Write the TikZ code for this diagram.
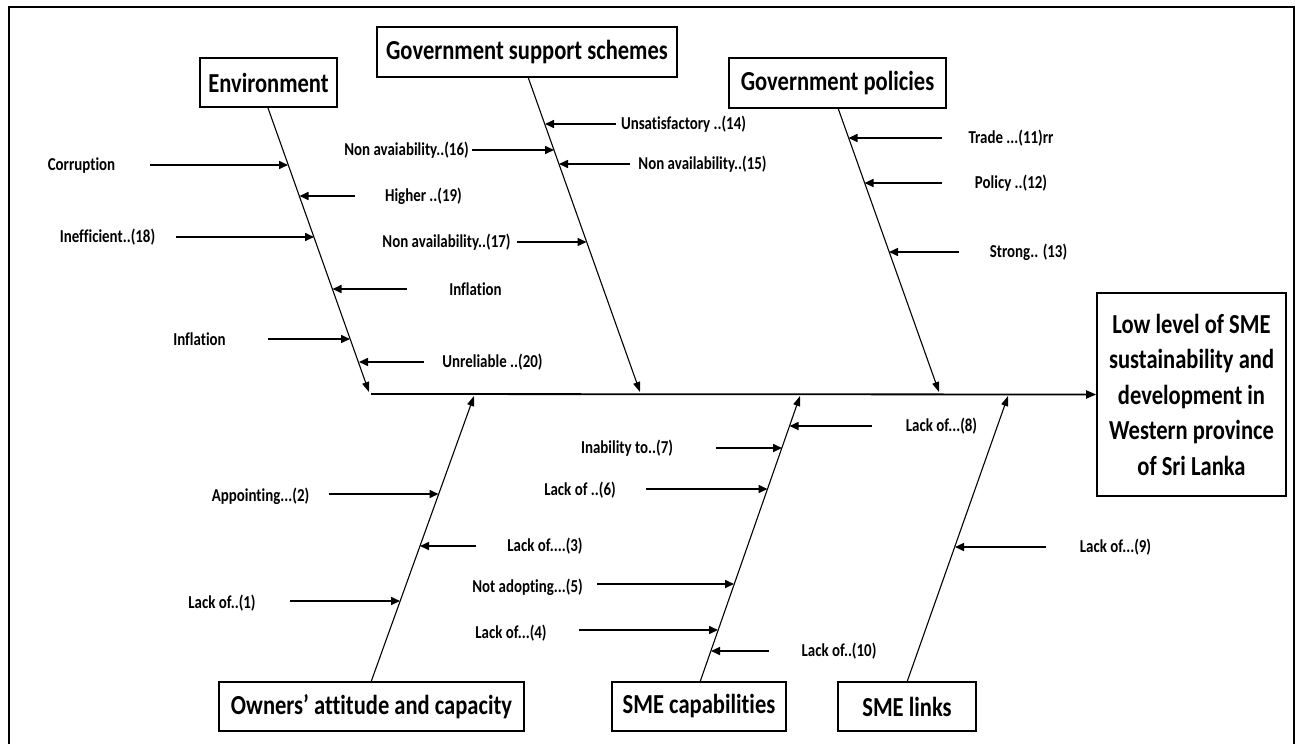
\documentclass[tikz,border=0pt]{standalone}
\usepackage{fontspec}
\setmainfont{Carlito}[FakeStretch=0.82,Ligatures=CommonOff]
\usetikzlibrary{arrows.meta}
\begin{document}
\begin{tikzpicture}[x=1pt,y=-1pt,
  box/.style={draw,line width=1.6pt,inner sep=0pt,align=center,
    font=\bfseries\fontsize{27.5}{35.5}\selectfont},
  lbl/.style={inner sep=0pt,font=\bfseries\fontsize{18.2}{20}\selectfont},
  bone/.style={line width=1.1pt,-{Triangle[length=10pt,width=7pt]}},
  spine/.style={line width=1.8pt,-{Triangle[length=10pt,width=8pt]}},
  cause/.style={line width=1.6pt,-{Triangle[length=9pt,width=8pt]}}]
\useasboundingbox (0,0) rectangle (1298,744);
\draw[line width=2.5pt] (9,744)--(9,7)--(1294,7)--(1294,744);

% category boxes
\node[box,minimum width=137pt,minimum height=49pt] (env) at (268.5,82.5) {Environment};
\node[box,minimum width=300pt,minimum height=50pt] (gss) at (527,52) {Government support schemes};
\node[box,minimum width=217pt,minimum height=50pt] (gp) at (837.5,83) {Government policies};
\node[box,minimum width=305pt,minimum height=49pt] (own) at (371.5,706.5) {Owners’ attitude and capacity};
\node[box,minimum width=174pt,minimum height=49pt] (cap) at (699,706.5) {SME capabilities};
\node[box,minimum width=138pt,minimum height=49pt] (lnk) at (907,706.5) {SME links};
\node[box,minimum width=189pt,minimum height=203pt] (out) at (1191.5,394.5)
  {Low level of SME\\sustainability and\\development in\\Western province\\of Sri Lanka};

% spine
\coordinate (s0) at (371,394);
\draw[spine] (s0) -- (out.west);

% bone ends
\coordinate (envE) at (369,392);
\coordinate (gssE) at (640,392);
\coordinate (gpE) at (939,392);
\coordinate (ownE) at (474,396);
\coordinate (capE) at (800,396);
\coordinate (lnkE) at (1008,396);
\coordinate (envS) at (268,108);
\coordinate (gssS) at (528,77);
\coordinate (gpS) at (838,108);
\coordinate (ownS) at (371,682);
\coordinate (capS) at (700,682);
\coordinate (lnkS) at (907,682);
\draw[bone] (envS) -- (envE);
\draw[bone] (gssS) -- (gssE);
\draw[bone] (gpS) -- (gpE);
\draw[bone] (ownS) -- (ownE);
\draw[bone] (capS) -- (capE);
\draw[bone] (lnkS) -- (lnkE);

% labels
\node[lbl] (l1)  at (81.5,166) {Corruption};
\node[lbl] (l2)  at (423.5,196) {Higher ..(19)};
\node[lbl] (l3)  at (107.5,237) {Inefficient..(18)};
\node[lbl] (l4)  at (475.5,289) {Inflation};
\node[lbl] (l5)  at (199.5,339) {Inflation};
\node[lbl] (l6)  at (492.5,362) {Unreliable ..(20)};
\node[lbl] (l7)  at (683.5,124) {Unsatisfactory ..(14)};
\node[lbl] (l8)  at (406.5,150) {Non avaiability..(16)};
\node[lbl] (l9)  at (702.5,164) {Non availability..(15)};
\node[lbl] (l10) at (446.5,242) {Non availability..(17)};
\node[lbl] (l11) at (1011,138) {Trade ...(11)rr};
\node[lbl] (l12) at (1011,183) {Policy ..(12)};
\node[lbl] (l13) at (1028.5,252) {Strong.. (13)};
\node[lbl] (l14) at (260.5,496) {Appointing...(2)};
\node[lbl] (l15) at (545,546) {Lack of....(3)};
\node[lbl] (l16) at (222,603) {Lack of..(1)};
\node[lbl] (l17) at (941.5,426) {Lack of...(8)};
\node[lbl] (l18) at (627,448) {Inability to..(7)};
\node[lbl] (l19) at (580,490) {Lack of ..(6)};
\node[lbl] (l20) at (527.5,587) {Not adopting...(5)};
\node[lbl] (l21) at (511,633) {Lack of...(4)};
\node[lbl] (l22) at (839,651) {Lack of..(10)};
\node[lbl] (l23) at (1115.5,547) {Lack of...(9)};

% cause arrows: start and end coordinates
\foreach \n/\sx/\sy/\ex in {
  1/150/165/288, 2/355/196/299.5, 3/176/237/314, 4/407/289/332.5,
  5/268/339/350, 6/424/362/359,
  7/616/124/545, 8/472/150/554, 9/630/164/559, 10/517/242/586.5,
  11/942/138/848.5, 12/942/183/864.5, 13/959/252/889,
  14/329/494/438.5, 15/476/546/420, 16/290/601/400,
  17/872/426/789.5, 18/716/448/782, 19/646/489/767.5, 20/597/584/734,
  21/579/630/718, 22/769/651/711, 23/1046/547/955}
{
  \coordinate (a\n) at (\sx,\sy);
  \coordinate (b\n) at (\ex,\sy);
  \draw[cause] (a\n) -- (b\n);
}
\end{tikzpicture}
\end{document}
